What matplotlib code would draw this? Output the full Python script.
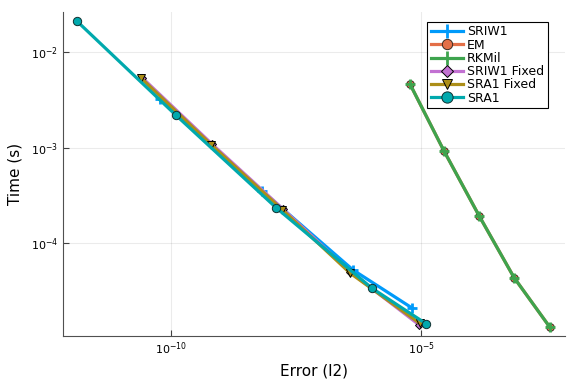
import numpy as np
import matplotlib
matplotlib.use('Agg')
import matplotlib.pyplot as plt

# error (l2) vs time (s) for each algorithm
sriw1_err = [5.9e-11, 6.6e-9, 4.3e-7, 6.6e-6]
sriw1_t = [3.24e-3, 3.5e-4, 5.25e-5, 2.09e-5]

em_err = [5.9e-6, 2.8e-5, 1.41e-4, 7.1e-4, 3.7e-3]
em_t = [4.62e-3, 9.3e-4, 1.95e-4, 4.37e-5, 1.32e-5]

rkmil_err = [5.9e-6, 2.8e-5, 1.41e-4, 7.1e-4, 3.7e-3]
rkmil_t = [4.62e-3, 9.3e-4, 1.95e-4, 4.37e-5, 1.32e-5]

sriw1f_err = [2.6e-11, 6.5e-10, 1.7e-8, 3.8e-7, 9.0e-6]
sriw1f_t = [5.4e-3, 1.09e-3, 2.28e-4, 5.0e-5, 1.40e-5]

sra1f_err = [2.51e-11, 6.3e-10, 1.66e-8, 3.7e-7, 9.3e-6]
sra1f_t = [5.31e-3, 1.07e-3, 2.24e-4, 4.9e-5, 1.45e-5]

sra1_err = [1.29e-12, 1.23e-10, 1.26e-8, 1.02e-6, 1.26e-5]
sra1_t = [2.11e-2, 2.19e-3, 2.34e-4, 3.39e-5, 1.43e-5]

fig = plt.figure(figsize=(5.76, 3.84), dpi=100)
ax = fig.add_axes([0.109, 0.125, 0.872, 0.844])

lw = 2.3
ax.plot(sriw1_err, sriw1_t, color='#009afa', lw=lw, marker='+', ms=7, mew=2, label='SRIW1')
ax.plot(em_err, em_t, color='#e36f47', lw=lw, marker='o', ms=5.5, mec='#3a2a20', mew=0.7, label='EM')
ax.plot(rkmil_err, rkmil_t, color='#3ea44e', lw=lw, marker='+', ms=7, mew=2, label='RKMil')
ax.plot(sriw1f_err, sriw1f_t, color='#c271d2', lw=lw, marker='D', ms=4.5, mec='black', mew=0.7, label='SRIW1 Fixed')
ax.plot(sra1f_err, sra1f_t, color='#ac8e18', lw=lw, marker='v', ms=5.5, mec='black', mew=0.7, label='SRA1 Fixed')
ax.plot(sra1_err, sra1_t, color='#00a9ad', lw=lw, marker='o', ms=6, mec='#103030', mew=0.7, label='SRA1')

ax.set_xscale('log')
ax.set_yscale('log')
ax.set_xlim(10**-12.17, 10**-2.13)
ax.set_ylim(10**-4.97, 10**-1.58)
ax.set_xticks([1e-10, 1e-5])
ax.set_yticks([1e-2, 1e-3, 1e-4])
ax.minorticks_off()
ax.tick_params(direction='in', labelsize=8, length=4, color='#404040')
ax.grid(True, color='black', alpha=0.08, lw=0.8)
for s in ['top', 'right']:
    ax.spines[s].set_visible(False)
for s in ['left', 'bottom']:
    ax.spines[s].set_color('#505050')

ax.set_xlabel('Error (l2)', fontsize=11)
ax.set_ylabel('Time (s)', fontsize=11, labelpad=6)

leg = ax.legend(loc='upper right', fontsize=9, fancybox=False, framealpha=1,
                edgecolor='black', borderpad=0.3, labelspacing=0.02,
                handlelength=2.6, handletextpad=0.3, markerscale=1.35,
                borderaxespad=0, bbox_to_anchor=(0.966, 0.97))
leg.get_frame().set_linewidth(0.8)

plt.savefig('out.png', dpi=100)
